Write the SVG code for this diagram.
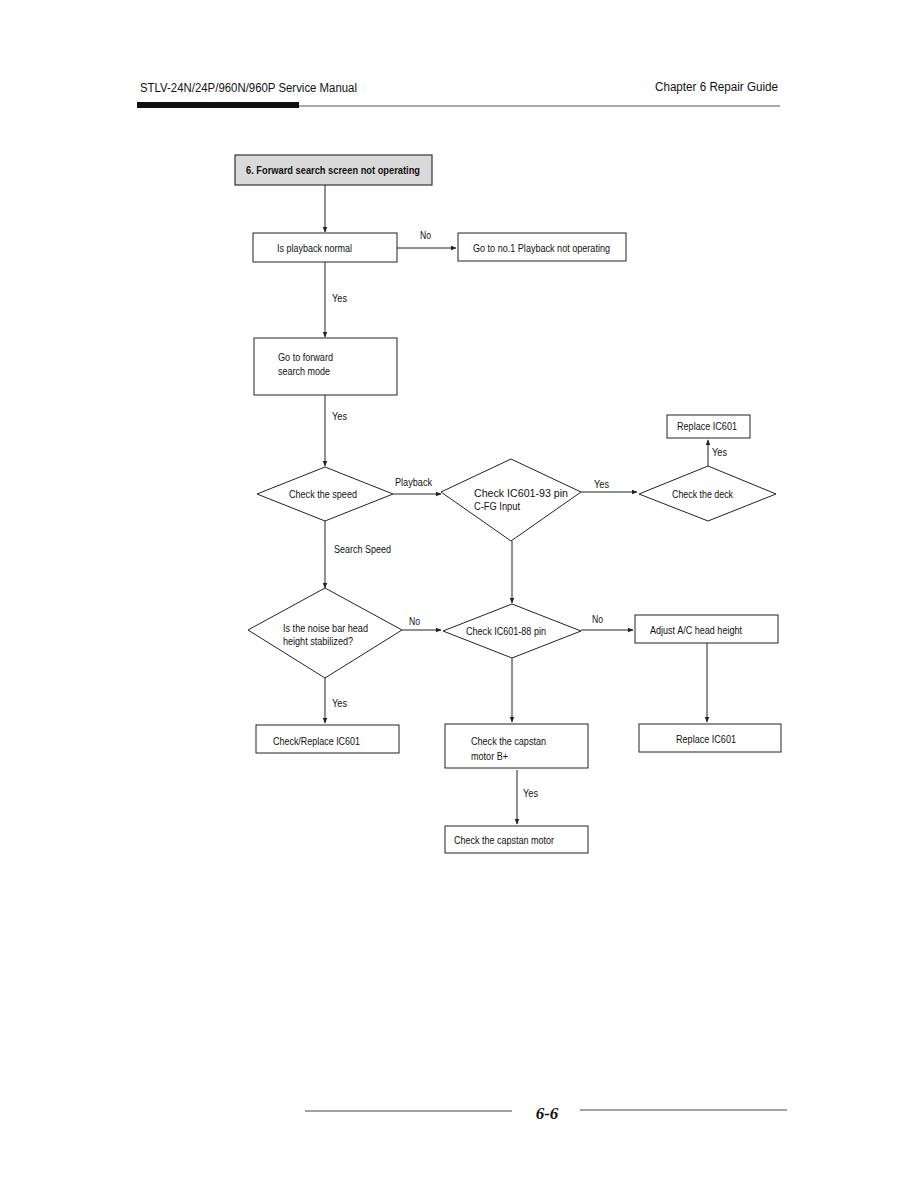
<svg xmlns="http://www.w3.org/2000/svg" width="918" height="1188" viewBox="0 0 918 1188">
<style>
text{font-family:"Liberation Sans",Arial,sans-serif;font-size:10px;fill:#111}
.hdr{font-size:12.5px}
.box{fill:#fff;stroke:#222;stroke-width:1}
.ln{stroke:#222;stroke-width:1;fill:none}
</style>
<defs>
<marker id="ah" viewBox="0 0 10 10" refX="9" refY="5" markerWidth="6" markerHeight="6" orient="auto" markerUnits="userSpaceOnUse">
<path d="M0,1 L10,5 L0,9 z" fill="#222"/>
</marker>
</defs>
<rect width="918" height="1188" fill="#fff"/>
<g id="header">
<text class="hdr" x="140" y="92" textLength="217" lengthAdjust="spacingAndGlyphs">STLV-24N/24P/960N/960P Service Manual</text>
<text class="hdr" x="655" y="91" textLength="123" lengthAdjust="spacingAndGlyphs">Chapter 6  Repair Guide</text>
<rect x="137" y="102" width="162" height="6" fill="#111"/>
<line x1="299" y1="106" x2="780" y2="106" stroke="#555" stroke-width="1"/>
</g>
<g id="connectors">
<line class="ln" x1="325" y1="185" x2="325" y2="232" marker-end="url(#ah)"/>
<line class="ln" x1="397" y1="248" x2="456" y2="248" marker-end="url(#ah)"/>
<text x="420" y="239" textLength="11" lengthAdjust="spacingAndGlyphs">No</text>
<line class="ln" x1="325" y1="262" x2="325" y2="337" marker-end="url(#ah)"/>
<text x="332" y="302" textLength="15" lengthAdjust="spacingAndGlyphs">Yes</text>
<line class="ln" x1="325" y1="395" x2="325" y2="466" marker-end="url(#ah)"/>
<text x="332" y="420" textLength="15" lengthAdjust="spacingAndGlyphs">Yes</text>
<line class="ln" x1="393" y1="494" x2="441" y2="494" marker-end="url(#ah)"/>
<text x="395" y="486" textLength="37" lengthAdjust="spacingAndGlyphs">Playback</text>
<line class="ln" x1="581" y1="492" x2="637" y2="492" marker-end="url(#ah)"/>
<text x="594" y="488" textLength="15" lengthAdjust="spacingAndGlyphs">Yes</text>
<line class="ln" x1="708" y1="466" x2="708" y2="440" marker-end="url(#ah)"/>
<text x="712" y="456" textLength="15" lengthAdjust="spacingAndGlyphs">Yes</text>
<line class="ln" x1="325" y1="521" x2="325" y2="588" marker-end="url(#ah)"/>
<text x="334" y="553" textLength="57" lengthAdjust="spacingAndGlyphs">Search Speed</text>
<line class="ln" x1="512" y1="541" x2="512" y2="603" marker-end="url(#ah)"/>
<line class="ln" x1="402" y1="630" x2="441" y2="630" marker-end="url(#ah)"/>
<text x="409" y="625" textLength="11" lengthAdjust="spacingAndGlyphs">No</text>
<line class="ln" x1="581" y1="630" x2="633" y2="630" marker-end="url(#ah)"/>
<text x="592" y="623" textLength="11" lengthAdjust="spacingAndGlyphs">No</text>
<line class="ln" x1="707" y1="643" x2="707" y2="722" marker-end="url(#ah)"/>
<line class="ln" x1="325" y1="678" x2="325" y2="723" marker-end="url(#ah)"/>
<text x="332" y="707" textLength="15" lengthAdjust="spacingAndGlyphs">Yes</text>
<line class="ln" x1="512" y1="658" x2="512" y2="722" marker-end="url(#ah)"/>
<line class="ln" x1="517" y1="770" x2="517" y2="824" marker-end="url(#ah)"/>
<text x="523" y="797" textLength="15" lengthAdjust="spacingAndGlyphs">Yes</text>
</g>
<g id="n-title">
<rect x="235" y="155" width="197" height="30" fill="#dadada" stroke="#333" stroke-width="1.2"/>
<text x="246" y="174" textLength="174" lengthAdjust="spacingAndGlyphs" style="font-weight:bold">6. Forward search screen not operating</text>
</g>
<g id="n-playback">
<rect class="box" x="253" y="233" width="144" height="29"/>
<text x="277" y="252" textLength="75" lengthAdjust="spacingAndGlyphs">Is playback normal</text>
</g>
<g id="n-goto1">
<rect class="box" x="458" y="233" width="168" height="28"/>
<text x="473" y="252" textLength="137" lengthAdjust="spacingAndGlyphs">Go to no.1 Playback not operating</text>
</g>
<g id="n-fwd">
<rect class="box" x="254" y="338" width="143" height="57"/>
<text x="278" y="361" textLength="55" lengthAdjust="spacingAndGlyphs">Go to forward</text>
<text x="278" y="375" textLength="52" lengthAdjust="spacingAndGlyphs">search mode</text>
</g>
<g id="n-speed">
<polygon class="box" points="325,467 393,494 325,521 257,494"/>
<text x="289" y="498" textLength="68" lengthAdjust="spacingAndGlyphs">Check the speed</text>
</g>
<g id="n-ic93">
<polygon class="box" points="511,459 581,492 511,541 441,492"/>
<text x="474" y="497" textLength="94" lengthAdjust="spacingAndGlyphs" style="font-size:10.5px">Check IC601-93 pin</text>
<text x="474" y="510" textLength="46" lengthAdjust="spacingAndGlyphs">C-FG Input</text>
</g>
<g id="n-deck">
<polygon class="box" points="708,466 776,494 708,521 639,494"/>
<text x="672" y="498" textLength="61" lengthAdjust="spacingAndGlyphs">Check the deck</text>
</g>
<g id="n-replace1">
<rect class="box" x="667" y="415" width="83" height="23"/>
<text x="677" y="430" textLength="60" lengthAdjust="spacingAndGlyphs">Replace IC601</text>
</g>
<g id="n-noise">
<polygon class="box" points="325,588 402,630 325,678 248,630"/>
<text x="283" y="632" textLength="85" lengthAdjust="spacingAndGlyphs">Is the noise bar head</text>
<text x="283" y="645" textLength="70" lengthAdjust="spacingAndGlyphs">height stabilized?</text>
</g>
<g id="n-ic88">
<polygon class="box" points="512,604 581,631 512,658 443,631"/>
<text x="466" y="635" textLength="80" lengthAdjust="spacingAndGlyphs">Check IC601-88 pin</text>
</g>
<g id="n-adjust">
<rect class="box" x="635" y="615" width="143" height="28"/>
<text x="650" y="634" textLength="92" lengthAdjust="spacingAndGlyphs">Adjust A/C head height</text>
</g>
<g id="n-replace2">
<rect class="box" x="639" y="724" width="142" height="28"/>
<text x="676" y="743" textLength="60" lengthAdjust="spacingAndGlyphs">Replace IC601</text>
</g>
<g id="n-checkreplace">
<rect class="box" x="256" y="725" width="143" height="28"/>
<text x="273" y="745" textLength="87" lengthAdjust="spacingAndGlyphs">Check/Replace IC601</text>
</g>
<g id="n-capB">
<rect class="box" x="445" y="724" width="143" height="44"/>
<text x="471" y="745" textLength="75" lengthAdjust="spacingAndGlyphs">Check the capstan</text>
<text x="471" y="760" textLength="37" lengthAdjust="spacingAndGlyphs">motor B+</text>
</g>
<g id="n-cap">
<rect class="box" x="445" y="826" width="143" height="27"/>
<text x="454" y="844" textLength="100" lengthAdjust="spacingAndGlyphs">Check the capstan motor</text>
</g>
<g id="footer">
<line x1="305" y1="1111" x2="512" y2="1111" stroke="#444" stroke-width="1"/>
<text x="547" y="1119" text-anchor="middle" style="font-family:'Liberation Serif',serif;font-weight:bold;font-style:italic;font-size:17px">6-6</text>
<line x1="580" y1="1110" x2="787" y2="1110" stroke="#444" stroke-width="1"/>
</g>
</svg>
